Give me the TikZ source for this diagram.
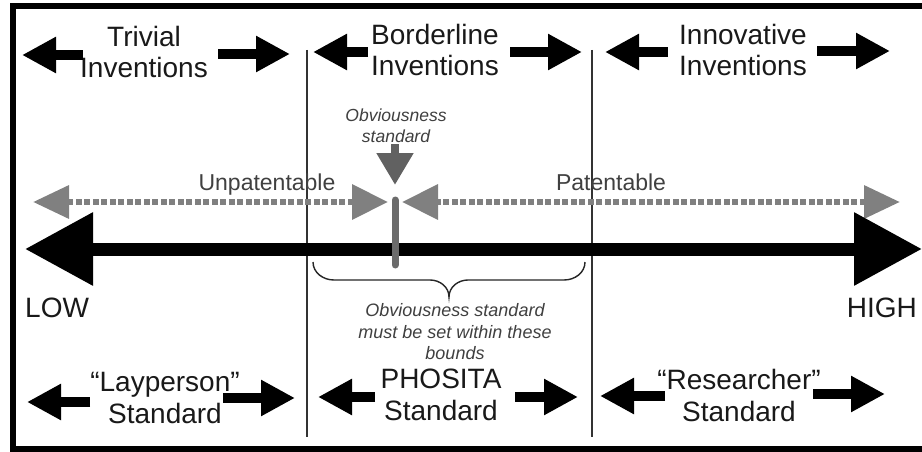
\documentclass[tikz,border=0pt]{standalone}
\usepackage{fontspec}
\setmainfont{Liberation Sans}
\usetikzlibrary{arrows.meta}
\begin{document}
\begin{tikzpicture}[x=1pt,y=-1pt,
  bigtxt/.style={font=\fontsize{28}{31}\selectfont, align=center, inner sep=0pt, text=black!90},
  lowtxt/.style={font=\fontsize{28}{32}\selectfont, align=center, inner sep=0pt, text=black!90},
  midtxt/.style={font=\fontsize{23}{26}\selectfont, inner sep=0pt, text=black!75},
  smalltxt/.style={font=\fontsize{17.5}{21.5}\selectfont\itshape, align=center, inner sep=0pt, text=black!75},
  blockarrow/.style={line width=10pt, -{Triangle[length=34pt,width=34pt]}},
  mainarrow/.style={line width=13pt, {Triangle[length=68pt,width=70pt]}-{Triangle[length=68pt,width=70pt]}},
  dotarrow/.style={draw=black!50, line width=6.5pt, dash pattern=on 6pt off 2.5pt,
     {Triangle[length=36pt,width=32pt]}-{Triangle[length=36pt,width=34pt]}},
  divider/.style={draw=black!80, line width=1.3pt},
  frameline/.style={line width=6pt, line join=miter}
]
\useasboundingbox (0,0) rectangle (922,452);
\fill[white] (0,0) rectangle (922,452);

% frame
\draw[frameline] (930,6) -- (13,6) -- (13,449) -- (930,449);

% dividers
\draw[divider] (307,50) coordinate (d1t) -- (307,437) coordinate (d1b);
\draw[divider] (592,50) coordinate (d2t) -- (592,437) coordinate (d2b);

% top row labels
\node[bigtxt] (triv) at (144,52) {Trivial\\Inventions};
\node[bigtxt] (bord) at (435,50) {Borderline\\Inventions};
\node[bigtxt] (innov) at (743,50) {Innovative\\Inventions};

% top row arrows
\draw[blockarrow] (83,55) coordinate (a1s) -- (22,55) coordinate (a1t);
\draw[blockarrow] (218,54) coordinate (a2s) -- (290,54) coordinate (a2t);
\draw[blockarrow] (368,52) coordinate (a3s) -- (313,52) coordinate (a3t);
\draw[blockarrow] (510,52) coordinate (a4s) -- (582,52) coordinate (a4t);
\draw[blockarrow] (668,52) coordinate (a5s) -- (605,52) coordinate (a5t);
\draw[blockarrow] (817,51) coordinate (a6s) -- (890,51) coordinate (a6t);

% obviousness standard marker
\node[smalltxt] (obv) at (396,125.5) {Obviousness\\standard};
\draw[draw=black!62, line width=8pt, -{Triangle[length=32pt,width=35pt]}] (395,144) coordinate (obvs) -- (395,185) coordinate (obvt);

% dotted arrows
\node[midtxt, anchor=base] (unpat) at (267,190) {Unpatentable};
\node[midtxt, anchor=base] (pat) at (611,190) {Patentable};
\draw[dotarrow] (33,202) coordinate (u1) -- (388,202) coordinate (u2);
\draw[dotarrow] (900,202) coordinate (p1) -- (402,202) coordinate (p2);

% main axis
\draw[mainarrow] (25,249) coordinate (low) -- (922,249) coordinate (high);

% standard bar
\draw[draw=black!58, line width=7pt, line cap=round] (395,200) coordinate (bart) -- (395,265) coordinate (barb);

\node[lowtxt, anchor=base west] (lowl) at (25,317) {LOW};
\node[lowtxt, anchor=base east] (highl) at (917,317) {HIGH};

% brace
\draw[line width=1.4pt, draw=black!85]
  (313,262) coordinate (br1) to[out=-90,in=180] (334,280) -- (430,280) to[out=0,in=90] (449,297) coordinate (brtip)
  to[out=90,in=180] (468,280) -- (564,280) to[out=0,in=-90] (585,262) coordinate (br2);
\node[smalltxt, font=\fontsize{18}{21.5}\selectfont\itshape] (bnd) at (455,332) {Obviousness standard\\must be set within these\\bounds};

% bottom row labels
\node[lowtxt] (lay) at (165,398) {``Layperson''\\Standard};
\node[lowtxt] (phos) at (441,395) {PHOSITA\\Standard};
\node[lowtxt] (res) at (739,395) {``Researcher''\\Standard};

% bottom row arrows
\draw[blockarrow] (90,402) coordinate (b1s) -- (27,402) coordinate (b1t);
\draw[blockarrow] (223,398) coordinate (b2s) -- (295,398) coordinate (b2t);
\draw[blockarrow] (375,397) coordinate (b3s) -- (318,397) coordinate (b3t);
\draw[blockarrow] (515,397) coordinate (b4s) -- (578,397) coordinate (b4t);
\draw[blockarrow] (665,396) coordinate (b5s) -- (600,396) coordinate (b5t);
\draw[blockarrow] (813,394) coordinate (b6s) -- (885,394) coordinate (b6t);
\end{tikzpicture}
\end{document}
